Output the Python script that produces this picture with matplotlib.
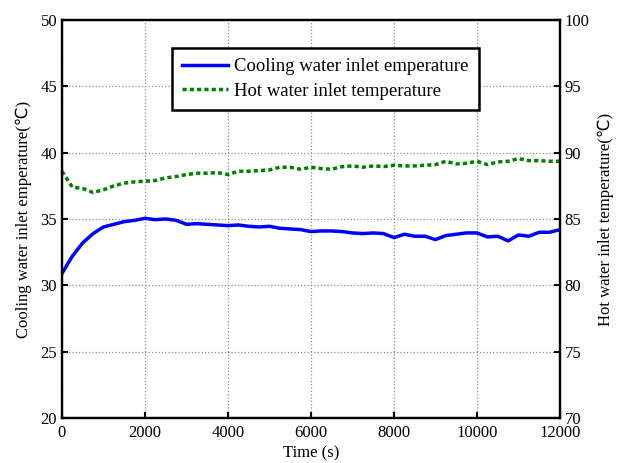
import numpy as np
import matplotlib
matplotlib.use("Agg")
import matplotlib.pyplot as plt

plt.rcParams['font.family'] = ['Liberation Serif', 'DejaVu Serif']

# Zeit in s
zeit = np.arange(0, 12001, 250)

# Kühlwasser-Eintritt (linke Achse)
kuehlwasser = [30.9, 32.2, 33.2, 33.9, 34.4, 34.6, 34.8, 34.9, 35.05, 34.95,
               35.0, 34.9, 34.6, 34.65, 34.6, 34.55, 34.5, 34.55, 34.45, 34.4,
               34.45, 34.3, 34.25, 34.2, 34.05, 34.1, 34.1, 34.05, 33.95, 33.9,
               33.95, 33.9, 33.6, 33.85, 33.7, 33.7, 33.45, 33.75, 33.85, 33.95,
               33.95, 33.65, 33.7, 33.35, 33.8, 33.7, 34.0, 34.0, 34.2]

# Heißwasser-Eintritt (rechte Achse)
heisswasser = [88.6, 87.4, 87.3, 87.0, 87.2, 87.5, 87.7, 87.8, 87.85, 87.9,
               88.1, 88.2, 88.35, 88.45, 88.45, 88.5, 88.35, 88.6, 88.6, 88.65,
               88.7, 88.9, 88.9, 88.75, 88.9, 88.8, 88.75, 88.95, 89.0, 88.9,
               89.0, 88.95, 89.05, 89.0, 89.0, 89.05, 89.1, 89.35, 89.15, 89.2,
               89.35, 89.1, 89.3, 89.35, 89.55, 89.4, 89.4, 89.35, 89.35]

fig = plt.figure(figsize=(6.18, 4.63), dpi=100)
ax1 = fig.add_axes([0.1003, 0.0972, 0.8058, 0.8596])
ax2 = ax1.twinx()

l1, = ax1.plot(zeit, kuehlwasser, color='blue', lw=2.5,
               label='Cooling water inlet emperature')
l2, = ax2.plot(zeit, heisswasser, color='green', lw=2.5, dashes=(1.2, 0.9),
               label='Hot water inlet temperature')

ax1.set_xlim(0, 12000)
ax1.set_ylim(20, 50)
ax2.set_ylim(70, 100)
ax1.set_xticks(np.arange(0, 12001, 2000))
ax1.set_yticks(np.arange(20, 51, 5))
ax2.set_yticks(np.arange(70, 101, 5))

ax1.grid(True, ls=':', color='0.55', lw=0.9)
for ax in (ax1, ax2):
    ax.tick_params(direction='in', labelsize=12, length=4, width=1.5)
    for s in ax.spines.values():
        s.set_linewidth(1.6)
ax1.tick_params(axis='x', pad=5)

ax1.set_xlabel('Time (s)', fontsize=12, labelpad=3)
ax1.set_ylabel('Cooling water inlet emperature(\u2103)', fontsize=12,
               family=['Liberation Serif', 'DejaVu Sans'], labelpad=6)
ax2.set_ylabel('Hot water inlet temperature(\u2103)', fontsize=12,
               family=['Liberation Serif', 'DejaVu Sans'], labelpad=6)

leg = ax1.legend(handles=[l1, l2], loc='upper left',
                 bbox_to_anchor=(0.221, 0.93), borderaxespad=0,
                 fontsize=13.5, fancybox=False, framealpha=1,
                 edgecolor='black', handlelength=2.45, handletextpad=0.3,
                 borderpad=0.55, labelspacing=0.4)
leg.get_frame().set_linewidth(1.8)

fig.savefig('out.png', dpi=100)
